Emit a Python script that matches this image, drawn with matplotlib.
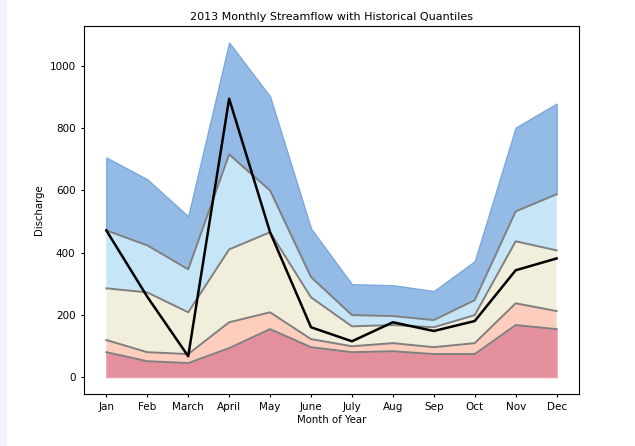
import numpy as np
import matplotlib.pyplot as plt
from matplotlib.patches import Rectangle

months = ['Jan', 'Feb', 'March', 'April', 'May', 'June', 'July', 'Aug', 'Sep', 'Oct', 'Nov', 'Dec']

# historical quantiles
q_min = [0, 0, 0, 0, 0, 0, 0, 0, 0, 0, 0, 0]
q10 = [80, 51, 45, 93, 154, 96, 80, 83, 74, 74, 167, 154]
q25 = [119, 80, 74, 176, 208, 122, 99, 109, 96, 109, 237, 212]
q75 = [285, 272, 208, 410, 465, 256, 163, 167, 160, 199, 436, 407]
q90 = [471, 423, 346, 715, 599, 321, 199, 196, 183, 247, 532, 587]
q_max = [705, 635, 516, 1074, 901, 477, 298, 295, 276, 372, 801, 878]

# 2013 observed
flow2013 = [471, 258, 67, 894, 465, 160, 115, 176, 148, 180, 343, 381]

x = np.arange(len(months))

plt.rcParams['font.size'] = 7.5
plt.rcParams['xtick.major.size'] = 2.5
plt.rcParams['ytick.major.size'] = 2.5
plt.rcParams['axes.linewidth'] = 0.8

fig = plt.figure(figsize=(6.35, 4.46), dpi=100)
fig.patches.append(Rectangle((0, 0), 6 / 635, 1, transform=fig.transFigure,
                             color='#f3f4f9', zorder=-10))
ax = fig.add_axes([0.132, 0.117, 0.780, 0.825])

ax.fill_between(x, q90, q_max, facecolor='#94bbe5', edgecolor='#7aa8dc', linewidth=1)
ax.fill_between(x, q75, q90, facecolor='#c6e5f6', edgecolor='none')
ax.fill_between(x, q25, q75, facecolor='#f2eedc', edgecolor='none')
ax.fill_between(x, q10, q25, facecolor='#fdcdbd', edgecolor='none')
ax.fill_between(x, q_min, q10, facecolor='#e38f9c', edgecolor='#e8a0ab', linewidth=1)

for q in [q10, q25, q75, q90]:
    ax.plot(x, q, color='gray', linewidth=1.4)

ax.plot(x, flow2013, color='black', linewidth=1.8)

ax.set_xticks(x)
ax.set_xticklabels(months)
ax.set_xlabel('Month of Year', fontsize=7.3, labelpad=2)
ax.set_ylabel('Discharge', fontsize=7.3, labelpad=4)
ax.set_title('2013 Monthly Streamflow with Historical Quantiles', fontsize=8, pad=4)
ax.set_xlim(-0.55, 11.55)
ax.set_ylim(-53.7, 1127.7)

fig.savefig('out.png', dpi=100)
